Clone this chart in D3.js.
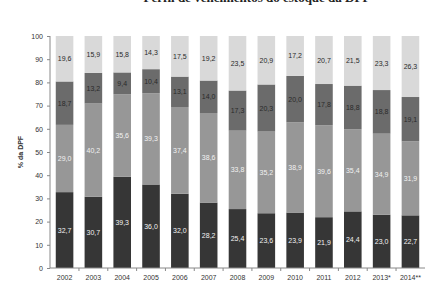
<!DOCTYPE html>
<html>
<head>
<meta charset="utf-8">
<script src="https://cdn.jsdelivr.net/npm/d3@7"></script>
<style>
  body { margin: 0; background: #fff; }
  svg { display: block; }
</style>
</head>
<body>
<div class="grafico"></div>
<script>
// anos e series (% da DPF)
const anos = ["2002","2003","2004","2005","2006","2007","2008","2009","2010","2011","2012","2013*","2014**"];
const serie1 = [32.7, 30.7, 39.3, 36.0, 32.0, 28.2, 25.4, 23.6, 23.9, 21.9, 24.4, 23.0, 22.7];
const serie2 = [29.0, 40.2, 35.6, 39.3, 37.4, 38.6, 33.8, 35.2, 38.9, 39.6, 35.4, 34.9, 31.9];
const serie3 = [18.7, 13.2, 9.4, 10.4, 13.1, 14.0, 17.3, 20.3, 20.0, 17.8, 18.8, 18.8, 19.1];
const serie4 = [19.6, 15.9, 15.8, 14.3, 17.5, 19.2, 23.5, 20.9, 17.2, 20.7, 21.5, 23.3, 26.3];
const ticksY = [0, 10, 20, 30, 40, 50, 60, 70, 80, 90, 100];

const series = [serie1, serie2, serie3, serie4];
const cores = ["#363636", "#979797", "#6b6b6b", "#d9d9d9"];
const corTexto = ["#f2f2f2", "#f2f2f2", "#2a2a2a", "#2a2a2a"];

const width = 425, height = 287;

const svg = d3.select(".grafico").append("svg")
  .attr("width", width)
  .attr("height", height)
  .style("font-family", "'Liberation Sans', Arial, sans-serif");

// titulo (cortado no topo)
svg.append("text")
  .attr("x", 257)
  .attr("y", 2)
  .attr("text-anchor", "middle")
  .style("font-family", "'Liberation Serif', serif")
  .style("font-weight", "bold")
  .style("font-size", "13px")
  .attr("fill", "#222")
  .text("Perfil de vencimentos do estoque da DPF");

const xScale = d3.scaleBand()
  .domain(anos)
  .range([50, 425])
  .paddingInner(0.39)
  .paddingOuter(0.2);

const yScale = d3.scaleLinear()
  .domain([0, 100])
  .range([268, 36]);

// empilhar
const dados = anos.map((a, i) => {
  const o = { ano: a };
  series.forEach((s, k) => { o["s" + k] = s[i]; });
  return o;
});
const stack = d3.stack().keys(["s0", "s1", "s2", "s3"]);
const camadas = stack(dados);

camadas.forEach((camada, k) => {
  const g = svg.append("g");
  g.selectAll("rect")
    .data(camada)
    .enter().append("rect")
    .attr("x", d => xScale(d.data.ano))
    .attr("y", d => yScale(Math.min(d[1], 100)))
    .attr("width", xScale.bandwidth())
    .attr("height", d => yScale(d[0]) - yScale(Math.min(d[1], 100)))
    .attr("fill", cores[k]);

  g.selectAll("text")
    .data(camada)
    .enter().append("text")
    .attr("x", d => xScale(d.data.ano) + xScale.bandwidth() / 2)
    .attr("y", d => (yScale(d[0]) + yScale(Math.min(d[1], 100))) / 2 + 2.5)
    .attr("text-anchor", "middle")
    .style("font-size", "7px")
    .attr("fill", corTexto[k])
    .text(d => (d[1] - d[0]).toFixed(1).replace(".", ","));
});

// eixo Y
const eixoY = svg.append("g")
  .attr("transform", "translate(50,0)")
  .call(d3.axisLeft(yScale).tickValues(ticksY).tickSize(3).tickPadding(4));
eixoY.selectAll("text").style("font-size", "7px").attr("fill", "#333");
eixoY.selectAll("line, path").attr("stroke", "#888");
eixoY.select(".domain").attr("d", "M0,36V268");

// eixo X
const eixoX = svg.append("g")
  .attr("transform", "translate(0,268)");
eixoX.append("line")
  .attr("x1", 50).attr("x2", 425)
  .attr("stroke", "#888");
eixoX.selectAll(".marca")
  .data(anos.slice(1))
  .enter().append("line")
  .attr("x1", d => xScale(d) - xScale.step() * xScale.paddingInner() / 2)
  .attr("x2", d => xScale(d) - xScale.step() * xScale.paddingInner() / 2)
  .attr("y1", 0).attr("y2", 3)
  .attr("stroke", "#888");
eixoX.selectAll("text")
  .data(anos)
  .enter().append("text")
  .attr("x", d => xScale(d) + xScale.bandwidth() / 2)
  .attr("y", 12)
  .attr("text-anchor", "middle")
  .style("font-size", "7px")
  .attr("fill", "#333")
  .text(d => d);

// titulo eixo Y
svg.append("text")
  .attr("transform", "translate(23,152) rotate(-90)")
  .attr("text-anchor", "middle")
  .style("font-size", "7px")
  .style("font-weight", "bold")
  .attr("fill", "#333")
  .text("% da DPF");
</script>
</body>
</html>
